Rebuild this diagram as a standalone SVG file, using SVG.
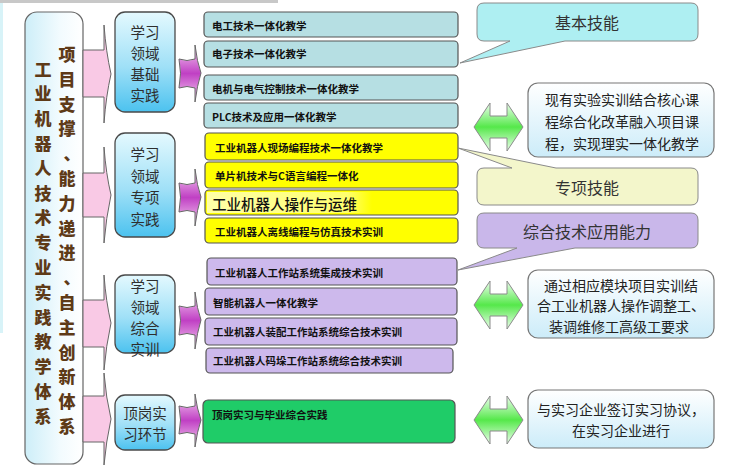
<svg xmlns="http://www.w3.org/2000/svg" width="732" height="475" viewBox="0 0 732 475">
<defs>
<linearGradient id="gMain" x1="0" y1="0" x2="1" y2="0"><stop offset="0" stop-color="#cdeef8"/><stop offset="0.6" stop-color="#f2fbfe"/><stop offset="1" stop-color="#ffffff"/></linearGradient>
<linearGradient id="gDom" x1="0" y1="0" x2="0" y2="1"><stop offset="0" stop-color="#e4f9fe"/><stop offset="0.55" stop-color="#9fe0f7"/><stop offset="1" stop-color="#4cc2ef"/></linearGradient>
<linearGradient id="gInfo" x1="0" y1="0" x2="0" y2="1"><stop offset="0" stop-color="#ffffff"/><stop offset="1" stop-color="#ccecf9"/></linearGradient>
<linearGradient id="gPurp" x1="0" y1="0" x2="0" y2="1"><stop offset="0" stop-color="#f6d2f2"/><stop offset="0.5" stop-color="#c040c4"/><stop offset="1" stop-color="#f6d2f2"/></linearGradient>
<linearGradient id="gGreen" x1="0" y1="0" x2="0" y2="1"><stop offset="0" stop-color="#effff0"/><stop offset="0.5" stop-color="#55e84a"/><stop offset="1" stop-color="#effff0"/></linearGradient>
<linearGradient id="gHi" x1="0" y1="0" x2="1" y2="0"><stop offset="0" stop-color="#ffffa8"/><stop offset="0.85" stop-color="#ffff70"/><stop offset="1" stop-color="#ffff00"/></linearGradient>
<style>
text{font-family:"Noto Sans CJK SC","Noto Sans",sans-serif;}
.main{font-size:17px;font-weight:900;fill:#5e3a17;text-anchor:middle;dominant-baseline:central;}
.dom{fill:url(#gDom);stroke:#4a4a4a;stroke-width:1.3;}
.domt{font-size:14.5px;fill:#2e2e2e;text-anchor:middle;dominant-baseline:central;}
.crs{stroke:#555;stroke-width:1.2;}
.teal{fill:#b6dfe3;}
.yel{fill:#ffff00;}
.lav{fill:#cdb9ec;}
.grn{fill:#1fcc68;}
.ct{font-size:10.5px;font-weight:700;fill:#111;dominant-baseline:central;}
.pink{fill:#f9c9e5;stroke:#666;stroke-width:1;}
.purp{fill:url(#gPurp);stroke:#666;stroke-width:1;}
.garr{fill:url(#gGreen);stroke:#8a8a8a;stroke-width:1;}
.call{stroke:#8a8a8a;stroke-width:1;}
.callt{font-size:16px;fill:#333;text-anchor:middle;dominant-baseline:central;}
.info{fill:url(#gInfo);stroke:#777;stroke-width:1.2;}
.infot{font-size:14px;fill:#222;text-anchor:middle;dominant-baseline:central;}
</style>
</defs>
<rect x="0" y="0" width="732" height="475" fill="#ffffff"/>
<rect x="0" y="0" width="278" height="3" fill="#c8c8c8"/>
<rect x="0" y="3" width="3" height="330" fill="#d8f3f8"/>

<g id="main">
<rect x="25" y="12" width="58" height="452" rx="12" fill="url(#gMain)" stroke="#666" stroke-width="1.2"/>
<text class="main"><tspan x="67" y="53">项</tspan><tspan x="67" y="77.8">目</tspan><tspan x="67" y="102.6">支</tspan><tspan x="67" y="127.4">撑</tspan><tspan x="72" y="152">、</tspan><tspan x="67" y="177">能</tspan><tspan x="67" y="201.8">力</tspan><tspan x="67" y="226.6">递</tspan><tspan x="67" y="251.4">进</tspan><tspan x="72" y="276">、</tspan><tspan x="67" y="301">自</tspan><tspan x="67" y="325.8">主</tspan><tspan x="67" y="350.6">创</tspan><tspan x="67" y="375.4">新</tspan><tspan x="67" y="400.2">体</tspan><tspan x="67" y="425">系</tspan></text>
<text class="main"><tspan x="43" y="67.5">工</tspan><tspan x="43" y="92.3">业</tspan><tspan x="43" y="117.1">机</tspan><tspan x="43" y="141.9">器</tspan><tspan x="43" y="166.7">人</tspan><tspan x="43" y="191.5">技</tspan><tspan x="43" y="216.3">术</tspan><tspan x="43" y="241.1">专</tspan><tspan x="43" y="265.9">业</tspan><tspan x="43" y="290.7">实</tspan><tspan x="43" y="315.5">践</tspan><tspan x="43" y="340.3">教</tspan><tspan x="43" y="365.1">学</tspan><tspan x="43" y="389.9">体</tspan><tspan x="43" y="414.7">系</tspan></text>
</g>

<g id="connectors">
<path class="pink" d="M83,50 H104 V25 Q106,52 111,74 Q106,96 104,123 V97 H83 Z"/>
<path class="pink" d="M83,173 H104 V147 Q106,174 111,195 Q106,218 104,243 V217 H83 Z"/>
<path class="pink" d="M83,300 H104 V275 Q106,302 111,323 Q106,346 104,370 V347 H83 Z"/>
<path class="pink" d="M83,396 H104 V373 Q106,398 111,419 Q106,442 104,465 V442 H83 Z"/>
<path class="purp" d="M179,59 Q187,62 195,59 V45 Q197,62 201,73 Q197,86 195,102 V88 Q187,85 179,88 Q182,73 179,59 Z"/>
<path class="purp" d="M179,183 Q187,186 195,183 V169 Q197,186 201,197 Q197,210 195,226 V212 Q187,209 179,212 Q182,197 179,183 Z"/>
<path class="purp" d="M179,306 Q187,309 195,306 V292 Q197,309 201,320 Q197,333 195,349 V335 Q187,332 179,335 Q182,320 179,306 Z"/>
<path class="purp" d="M179,406 Q187,409 195,406 V394 Q197,409 201,420 Q197,432 195,447 V434 Q187,431 179,434 Q182,420 179,406 Z"/>
<path class="garr" d="M474,127 L490,103 V116 H507 V103 L523,127 L507,151 V138 H490 V151 Z"/>
<path class="garr" d="M474,305 L490,281 V294 H507 V281 L523,305 L507,329 V316 H490 V329 Z"/>
<path class="garr" d="M474,420 L490,396 V409 H507 V396 L523,420 L507,444 V431 H490 V444 Z"/>
</g>

<g id="domain-basic"><rect class="dom" x="115" y="12" width="60" height="100" rx="10"/><text class="domt"><tspan x="145" y="31">学习</tspan><tspan x="145" y="52">领域</tspan><tspan x="145" y="73">基础</tspan><tspan x="145" y="94">实践</tspan></text></g>
<g id="domain-special"><rect class="dom" x="115" y="133" width="60" height="104" rx="10"/><text class="domt"><tspan x="145" y="153">学习</tspan><tspan x="145" y="174.5">领域</tspan><tspan x="145" y="196">专项</tspan><tspan x="145" y="217.5">实践</tspan></text></g>
<g id="domain-comprehensive"><rect class="dom" x="115" y="275" width="60" height="78" rx="10"/><text class="domt"><tspan x="145" y="284.5">学习</tspan><tspan x="145" y="305.5">领域</tspan><tspan x="145" y="326.5">综合</tspan><tspan x="145" y="347.5">实训</tspan></text></g>
<g id="domain-internship"><rect class="dom" x="115" y="395" width="60" height="55" rx="10"/><text class="domt"><tspan x="145" y="412">顶岗实</tspan><tspan x="145" y="433">习环节</tspan></text></g>

<g id="course-1"><rect class="crs teal" x="204" y="12" width="254" height="25" rx="4"/><text class="ct" x="212" y="25">电工技术一体化教学</text></g>
<g id="course-2"><rect class="crs teal" x="204" y="41" width="254" height="26" rx="4"/><text class="ct" x="212" y="53">电子技术一体化教学</text></g>
<g id="course-3"><rect class="crs teal" x="204" y="75" width="254" height="25" rx="4"/><text class="ct" x="212" y="88">电机与电气控制技术一体化教学</text></g>
<g id="course-4"><rect class="crs teal" x="204" y="103" width="254" height="25" rx="4"/><text class="ct" x="212" y="116">PLC技术及应用一体化教学</text></g>

<g id="course-5"><rect class="crs yel" x="205" y="133" width="253" height="27" rx="4"/><text class="ct" x="215" y="147">工业机器人现场编程技术一体化教学</text></g>
<g id="course-6"><rect class="crs yel" x="205" y="162" width="253" height="26" rx="4"/><text class="ct" x="215" y="175">单片机技术与C语言编程一体化</text></g>
<g id="course-7"><rect class="crs yel" x="205" y="190" width="253" height="25" rx="4"/><rect x="207" y="192" width="165" height="21" fill="url(#gHi)"/><text x="212" y="203" font-size="14.5" font-weight="500" fill="#111" dominant-baseline="central">工业机器人操作与运维</text></g>
<g id="course-8"><rect class="crs yel" x="205" y="218" width="253" height="25" rx="4"/><text class="ct" x="215" y="231">工业机器人离线编程与仿真技术实训</text></g>

<g id="course-9"><rect class="crs lav" x="207" y="258" width="250" height="27" rx="4"/><text class="ct" x="215" y="272">工业机器人工作站系统集成技术实训</text></g>
<g id="course-10"><rect class="crs lav" x="205" y="288" width="252" height="27" rx="4"/><text class="ct" x="213" y="302">智能机器人一体化教学</text></g>
<g id="course-11"><rect class="crs lav" x="205" y="318" width="252" height="27" rx="4"/><text class="ct" x="213" y="331">工业机器人装配工作站系统综合技术实训</text></g>
<g id="course-12"><rect class="crs lav" x="206" y="348" width="247" height="25" rx="4"/><text class="ct" x="213" y="360">工业机器人码垛工作站系统综合技术实训</text></g>

<g id="course-13"><rect class="crs grn" x="203" y="400" width="252" height="43" rx="5"/><text class="ct" x="212" y="414">顶岗实习与毕业综合实践</text></g>

<g id="callout-basic"><path class="call" fill="#aeeff2" d="M484,3 H691 Q698,3 698,10 V34 Q698,41 691,41 H565 L460,63 L510,41 H484 Q477,41 477,34 V10 Q477,3 484,3 Z"/><text class="callt" x="587" y="22">基本技能</text></g>
<g id="callout-special"><path class="call" fill="#f3f6cb" d="M484,168 H512 L458,148 L556,168 H691 Q698,168 698,175 V198 Q698,205 691,205 H484 Q477,205 477,198 V175 Q477,168 484,168 Z"/><text class="callt" x="587" y="187">专项技能</text></g>
<g id="callout-comprehensive"><path class="call" fill="#c9b7ea" d="M484,213 H691 Q698,213 698,220 V241 Q698,248 691,248 H575 L458,270 L517,248 H484 Q477,248 477,241 V220 Q477,213 484,213 Z"/><text class="callt" x="587" y="231">综合技术应用能力</text></g>

<g id="info-1"><rect class="info" x="528" y="83" width="186" height="74" rx="10"/><text class="infot"><tspan x="622" y="99">现有实验实训结合核心课</tspan><tspan x="622" y="121">程综合化改革融入项目课</tspan><tspan x="622" y="143">程，实现理实一体化教学</tspan></text></g>
<g id="info-2"><rect class="info" x="528" y="270" width="186" height="68" rx="10"/><text class="infot"><tspan x="621" y="284.5">通过相应模块项目实训结</tspan><tspan x="621" y="305">合工业机器人操作调整工、</tspan><tspan x="619" y="325.5">装调维修工高级工要求</tspan></text></g>
<g id="info-3"><rect class="info" x="528" y="390" width="186" height="58" rx="10"/><text class="infot"><tspan x="621" y="409">与实习企业签订实习协议，</tspan><tspan x="621" y="430">在实习企业进行</tspan></text></g>
</svg>
